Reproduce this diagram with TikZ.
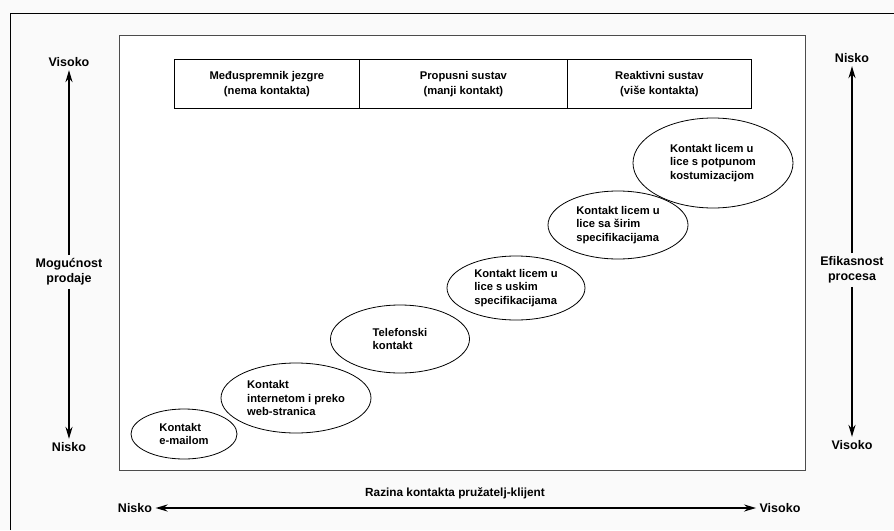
\documentclass[tikz,border=0pt]{standalone}
\usepackage{fontspec}
\setmainfont{Liberation Sans}
\usetikzlibrary{shapes.geometric, arrows.meta}

\tikzset{
	kontakt/.style = {ellipse, draw = black, thick, fill = white, align = left, inner sep = 0pt,
		font = \bfseries\fontsize{11.2}{13.5}\selectfont},
	zaglavlje/.style = {draw = black, thick, anchor = north west, align = center, minimum height = 49,
		font = \bfseries\fontsize{11.2}{15.5}\selectfont},
	oznaka/.style = {align = center, font = \bfseries\fontsize{12.5}{15}\selectfont},
	os/.style = {line width = 2pt, -{Stealth[length = 12pt, width = 7pt]}},
}

\begin{document}
\begin{tikzpicture}[x = 1pt, y = -1pt]
	%	okvir
	\def\xmin{0}
	\def\xmax{894}
	\def\ymin{0}
	\def\ymax{530}
	\useasboundingbox[fill = white!98!black] (\xmin, \ymin) rectangle (\xmax, \ymax);
	\draw[black, thick] (10, \ymax) -- (10, 13) -- (\xmax, 13);
	\draw[black!70, thick, fill = white] (119, 35) rectangle (805, 470);

	%	zaglavlje
	\node[zaglavlje, minimum width = 185] (jezgra) at (174, 59) {Međuspremnik jezgre\\(nema kontakta)};
	\node[zaglavlje, minimum width = 208] (propusni) at (359, 59) {Propusni sustav\\(manji kontakt)};
	\node[zaglavlje, minimum width = 184] (reaktivni) at (567, 59) {Reaktivni sustav\\(više kontakta)};

	%	kontakti
	\node[kontakt, minimum width = 106, minimum height = 50] (email) at (184, 434) {Kontakt\\e-mailom};
	\node[kontakt, minimum width = 150, minimum height = 70] (internet) at (296, 398) {Kontakt\\internetom i preko\\web-stranica};
	\node[kontakt, minimum width = 139, minimum height = 68] (telefon) at (400, 339) {Telefonski\\kontakt};
	\node[kontakt, minimum width = 138, minimum height = 64] (uskim) at (516, 288) {Kontakt licem u\\lice s uskim\\specifikacijama};
	\node[kontakt, minimum width = 140, minimum height = 68] (sirim) at (618, 225) {Kontakt licem u\\lice sa širim\\specifikacijama};
	\node[kontakt, minimum width = 160, minimum height = 90] (potpuno) at (713, 163) {Kontakt licem u\\lice s potpunom\\kostumizacijom};

	%	lijeva os
	\node[oznaka] (lvis) at (69, 62) {Visoko};
	\node[oznaka] (prodaja) at (69, 272) {Mogućnost\\prodaje};
	\node[oznaka] (lnis) at (69, 447) {Nisko};
	\draw[os] (prodaja) -- (lvis);
	\draw[os] (prodaja) -- (lnis);

	%	desna os
	\node[oznaka] (dnis) at (852, 58) {Nisko};
	\node[oznaka] (proces) at (852, 270) {Efikasnost\\procesa};
	\node[oznaka] (dvis) at (852, 445) {Visoko};
	\draw[os] (proces) -- (dnis);
	\draw[os] (proces) -- (dvis);

	%	donja os
	\node[oznaka] (bnis) at (135, 508) {Nisko};
	\node[oznaka] (bvis) at (780, 508) {Visoko};
	\node[oznaka, font = \bfseries\fontsize{11.8}{14}\selectfont] (razina) at (455, 493) {Razina kontakta pružatelj-klijent};
	\draw[os, {Stealth[length = 12pt, width = 7pt]}-{Stealth[length = 12pt, width = 7pt]}] (bnis) -- (bvis);
\end{tikzpicture}
\end{document}
